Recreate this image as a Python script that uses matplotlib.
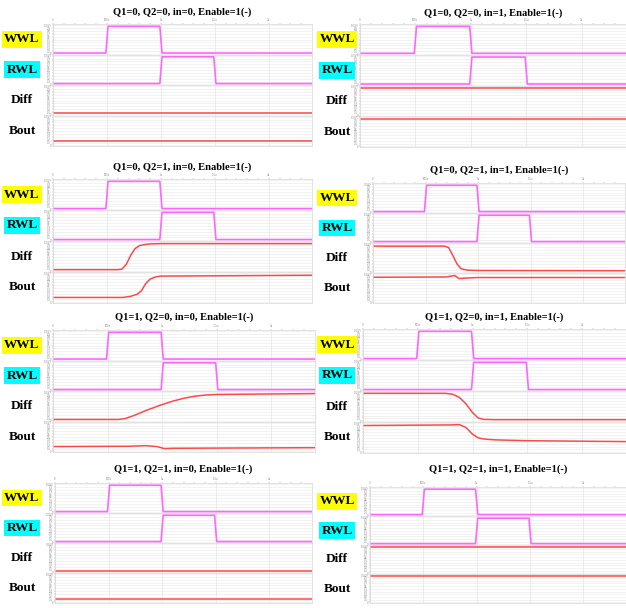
import matplotlib
matplotlib.use("Agg")
import matplotlib.pyplot as plt

W, H = 626, 608

titles = [
    "Q1=0, Q2=0, in=0, Enable=1(-)",
    "Q1=0, Q2=0, in=1, Enable=1(-)",
    "Q1=0, Q2=1, in=0, Enable=1(-)",
    "Q1=0, Q2=1, in=1, Enable=1(-)",
    "Q1=1, Q2=0, in=0, Enable=1(-)",
    "Q1=1, Q2=0, in=1, Enable=1(-)",
    "Q1=1, Q2=1, in=0, Enable=1(-)",
    "Q1=1, Q2=1, in=1, Enable=1(-)",
]
signal_names = ["WWL", "RWL", "Diff", "Bout"]
label_bg = ["#ffff00", "#00ffff", None, None]

# time in us, levels as fraction of the axis height
wwl_t = [0, 0.49, 0.51, 0.99, 1.01, 2.4]
wwl_v = [0.03, 0.03, 0.96, 0.96, 0.03, 0.03]
rwl_t = [0, 0.99, 1.01, 1.49, 1.51, 2.4]
rwl_v = [0.03, 0.03, 0.96, 0.96, 0.03, 0.03]

# Diff traces per case
diff_t = [
    [0, 2.4],
    [0, 2.4],
    [0, 0.6, 0.64, 0.68, 0.72, 0.76, 0.8, 0.85, 0.9, 1.0, 2.4],
    [0, 0.68, 0.72, 0.76, 0.8, 0.84, 0.9, 1.0, 2.4],
    [0, 0.6, 0.66, 0.75, 0.85, 1.0, 1.1, 1.2, 1.3, 1.4, 1.5, 2.4],
    [0, 0.75, 0.82, 0.88, 0.94, 1.0, 1.05, 1.1, 1.2, 2.4],
    [0, 2.4],
    [0, 2.4],
]
diff_v = [
    [0.07, 0.07],
    [0.95, 0.95],
    [0.06, 0.06, 0.08, 0.25, 0.55, 0.78, 0.88, 0.92, 0.94, 0.95, 0.95],
    [0.93, 0.93, 0.88, 0.6, 0.3, 0.13, 0.08, 0.07, 0.06],
    [0.05, 0.05, 0.08, 0.2, 0.36, 0.57, 0.69, 0.79, 0.86, 0.9, 0.92, 0.95],
    [0.96, 0.96, 0.93, 0.82, 0.6, 0.3, 0.12, 0.07, 0.06, 0.06],
    [0.05, 0.05],
    [0.95, 0.95],
]

# Bout traces per case
bout_t = [
    [0, 2.4],
    [0, 2.4],
    [0, 0.65, 0.72, 0.78, 0.82, 0.86, 0.9, 0.95, 1.0, 2.4],
    [0, 0.7, 0.74, 0.78, 0.82, 0.88, 1.0, 2.4],
    [0, 0.7, 0.85, 0.95, 1.02, 1.1, 2.4],
    [0, 0.8, 0.88, 0.94, 1.0, 1.05, 1.1, 1.2, 1.5, 2.4],
    [0, 2.4],
    [0, 2.4],
]
bout_v = [
    [0.15, 0.15],
    [0.95, 0.95],
    [0.17, 0.17, 0.21, 0.28, 0.4, 0.65, 0.8, 0.87, 0.9, 0.93],
    [0.89, 0.9, 0.93, 0.95, 0.84, 0.86, 0.88, 0.88],
    [0.17, 0.18, 0.2, 0.17, 0.1, 0.11, 0.13],
    [0.92, 0.94, 0.95, 0.85, 0.62, 0.5, 0.46, 0.43, 0.4, 0.37],
    [0.12, 0.12],
    [0.95, 0.95],
]

# plot areas in pixels: left, top, right, bottom
panels = [
    (53, 24, 312, 146), (360, 24, 626, 147),
    (53, 179, 312, 303), (373, 183, 625, 303),
    (53, 330, 315, 452), (363, 329, 626, 453),
    (55, 483, 312, 603), (370, 487, 626, 603),
]
title_y = [12, 13, 167, 170, 317, 317, 469, 469]

pink = "#ff66ff"
red = "#ff4848"
xticks = [0, 0.5, 1.0, 1.5, 2.0]
xtick_labels = ["0", "500n", "1u", "1.5u", "2u"]
yticks = [0, 0.1, 0.2, 0.3, 0.4, 0.5, 0.6, 0.7, 0.8, 0.9, 1.0]
ytick_labels = ["0", "0.1", "0.2", "0.3", "0.4", "0.5", "0.6", "0.7", "0.8", "0.9", "1.0(V)"]

fig = plt.figure(figsize=(W / 100, H / 100), dpi=100)
serif = "Liberation Serif"

for i, (l, t, r, b) in enumerate(panels):
    h = (b - t) / 4
    fig.text((l + r) / 2 / W, 1 - title_y[i] / H, titles[i], ha="center", va="center",
             fontsize=7.6, fontweight="bold", family=serif)
    lab_x = 22 if l < 200 else 337
    for k in range(4):
        top = t + k * h
        ax = fig.add_axes([l / W, 1 - (top + h) / H, (r - l) / W, h / H])
        ax.set_xlim(0, 2.4)
        ax.set_ylim(-0.02, 1.04)
        ax.set_yticks(yticks)
        ax.set_yticklabels(ytick_labels, fontsize=1.8, color="#555555")
        ax.tick_params(axis="y", length=1, width=0.3, pad=0.5, colors="#888888")
        ax.set_xticks(xticks)
        ax.set_xticks([x / 10 for x in range(0, 24)], minor=True)
        if k == 0:
            ax.xaxis.tick_top()
            ax.set_xticklabels(xtick_labels, fontsize=1.8, color="#555555")
            ax.tick_params(axis="x", which="both", length=1, width=0.3, pad=0.2, colors="#888888")
        else:
            ax.tick_params(axis="x", which="both", length=0, labelbottom=False, labeltop=False)
        ax.grid(True, axis="y", color="#e8e8e8", linewidth=0.4)
        ax.grid(True, axis="x", which="major", color="#dddddd", linewidth=0.4)
        for s in ax.spines.values():
            s.set_color("#d8d8d8")
            s.set_linewidth(0.5)
        if k == 0:
            ax.plot(wwl_t, wwl_v, color=pink, lw=1.2)
        elif k == 1:
            ax.plot(rwl_t, rwl_v, color=pink, lw=1.2)
        elif k == 2:
            ax.plot(diff_t[i], diff_v[i], color=red, lw=1.1)
        else:
            ax.plot(bout_t[i], bout_v[i], color=red, lw=1.1)

        bg = label_bg[k]
        bbox = dict(boxstyle="square,pad=0.18", fc=bg, ec="none") if bg else None
        fig.text(lab_x / W, 1 - (top + h / 2) / H, signal_names[k], ha="center", va="center",
                 fontsize=9.5, fontweight="bold", family=serif, bbox=bbox)

fig.savefig("out.png", dpi=100)
